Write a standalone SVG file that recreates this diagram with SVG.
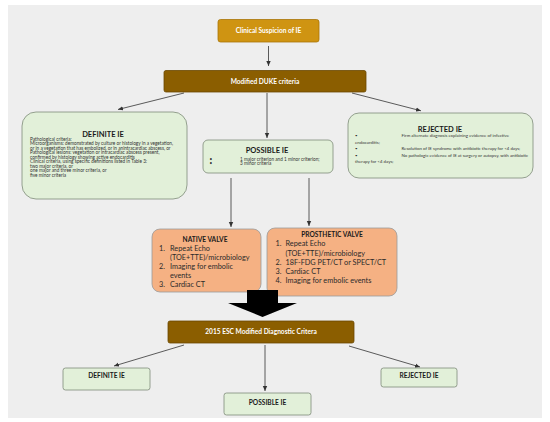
<svg xmlns="http://www.w3.org/2000/svg" width="550" height="422" viewBox="0 0 550 422">
<defs>
<marker id="ah" markerWidth="6" markerHeight="6" refX="5" refY="3" orient="auto" markerUnits="userSpaceOnUse">
<path d="M0,0.8 L5,3 L0,5.2 Z" fill="#333"/>
</marker>
<style>
.t{font-family:Lato,"Open Sans","Liberation Sans",sans-serif}
.w{fill:#ffffff;font-weight:bold;font-size:6.6px;text-anchor:middle}
.h{fill:#1a1a1a;font-weight:bold;text-anchor:middle}
.b{fill:#333;font-size:4.7px}
.r{fill:#333;font-size:4.4px}
.o{fill:#2a2a2a;font-size:7.3px}
.gold{fill:#cf9412;stroke:#a87508;stroke-width:0.8}
.brown{fill:#8b5e00;stroke:#6a4800;stroke-width:0.8}
.green{fill:#e2f0d9;stroke:#7d8a78;stroke-width:0.8}
.orange{fill:#f5b183;stroke:#9a9a9a;stroke-width:0.8}
.c{stroke:#333;stroke-width:0.8;fill:none;marker-end:url(#ah)}
</style>
</defs>
<rect x="8" y="5" width="534" height="413" fill="#eeeeee"/>

<g id="connectors">
<line class="c" x1="268.5" y1="46" x2="268.5" y2="66"/>
<line class="c" x1="184" y1="93" x2="118" y2="109.5"/>
<line class="c" x1="267" y1="93" x2="267" y2="138"/>
<line class="c" x1="352" y1="93" x2="421" y2="110.8"/>
<line class="c" x1="231" y1="178" x2="231" y2="227"/>
<line class="c" x1="309" y1="178" x2="309" y2="226"/>
<line class="c" x1="184" y1="345" x2="114" y2="366"/>
<line class="c" x1="265" y1="345" x2="265" y2="391"/>
<line class="c" x1="349" y1="346" x2="420" y2="367"/>
</g>

<g id="clinical">
<rect class="gold" x="218" y="19.5" width="101" height="22.5" rx="2.5"/>
<text class="t w" x="268.5" y="33.2">Clinical Suspicion of IE</text>
</g>

<g id="duke">
<rect class="brown" x="164" y="70.5" width="202" height="21.5" rx="2"/>
<text class="t w" x="265" y="83.5">Modified DUKE criteria</text>
</g>

<g id="definite">
<rect class="green" x="22" y="112" width="165" height="87" rx="14"/>
<text class="t h" x="103" y="136.5" font-size="7.5">DEFINITE IE</text>
<text class="t b" x="30" y="140.5">Pathological criteria:</text>
<text class="t b" x="30" y="145.1">Microorganisms: demonstrated by culture or histology in a vegetation,</text>
<text class="t b" x="30" y="149.6">or in a vegetation that has embolized, or in anintracardiac abscess, or</text>
<text class="t b" x="30" y="154.2">Pathological lesions: vegetation or intracardiac abscess present,</text>
<text class="t b" x="30" y="158.7">confirmed by histology showing active endocarditis</text>
<text class="t b" x="30" y="163.2">Clinical criteria, using specific definitions listed in Table 3:</text>
<text class="t b" x="30" y="167.8">two major criteria, or</text>
<text class="t b" x="30" y="172.4">one major and three minor criteria, or</text>
<text class="t b" x="30" y="176.9">five minor criteria</text>
</g>

<g id="possible">
<rect class="green" x="203" y="140" width="130" height="33" rx="5"/>
<text class="t h" x="267" y="153.3" font-size="7.5">POSSIBLE IE</text>
<text class="t b" x="209.5" y="160.5">•</text>
<text class="t b" x="240" y="160.5">1 major criterion and 1 minor criterion;</text>
<text class="t b" x="209.5" y="165.4">•</text>
<text class="t b" x="240" y="165.4">3 minor criteria</text>
</g>

<g id="rejected">
<rect class="green" x="348" y="113" width="185" height="65" rx="11"/>
<text class="t h" x="440" y="131.5" font-size="7.5">REJECTED IE</text>
<text class="t r" x="355" y="137.4">•</text>
<text class="t r" x="401.5" y="137.4">Firm alternate diagnosis explaining evidence of infective</text>
<text class="t r" x="355" y="143.8">endocarditis;</text>
<text class="t r" x="355" y="150.2">•</text>
<text class="t r" x="401.5" y="150.2">Resolution of IE syndrome with antibiotic therapy for &lt;4 days;</text>
<text class="t r" x="355" y="156.6">•</text>
<text class="t r" x="401.5" y="156.6">No pathologic evidence of IE at surgery or autopsy, with antibiotic</text>
<text class="t r" x="355" y="163">therapy for &lt;4 days;</text>
</g>

<g id="native">
<rect class="orange" x="152" y="229" width="109" height="63" rx="8"/>
<text class="t h" x="205" y="242.4" font-size="6.6">NATIVE VALVE</text>
<text class="t o" x="159" y="250.8">1.</text>
<text class="t o" x="170" y="250.8">Repeat Echo</text>
<text class="t o" x="170" y="260.1">(TOE+TTE)/microbiology</text>
<text class="t o" x="159" y="269.2">2.</text>
<text class="t o" x="170" y="269.2">Imaging for embolic</text>
<text class="t o" x="170" y="278">events</text>
<text class="t o" x="159" y="287.4">3.</text>
<text class="t o" x="170" y="287.4">Cardiac CT</text>
</g>

<g id="prosthetic">
<rect class="orange" x="267" y="228" width="130" height="68" rx="8"/>
<text class="t h" x="332" y="237.2" font-size="6.6">PROSTHETIC VALVE</text>
<text class="t o" x="275.5" y="246.2">1.</text>
<text class="t o" x="285.5" y="246.2">Repeat Echo</text>
<text class="t o" x="285.5" y="255.8">(TOE+TTE)/microbiology</text>
<text class="t o" x="275.5" y="264.8">2.</text>
<text class="t o" x="285.5" y="264.8">18F-FDG PET/CT or SPECT/CT</text>
<text class="t o" x="275.5" y="273.5">3.</text>
<text class="t o" x="285.5" y="273.5">Cardiac CT</text>
<text class="t o" x="275.5" y="283.3">4.</text>
<text class="t o" x="285.5" y="283.3">Imaging for embolic events</text>
</g>

<g id="bigarrow">
<polygon points="247,290 278,290 278,303 297,303 262.5,317 228,303 247,303" fill="#000"/>
</g>

<g id="esc">
<rect class="brown" x="168" y="321" width="186" height="22" rx="2"/>
<text class="t w" x="261" y="334.2">2015 ESC Modified Diagnostic Critera</text>
</g>

<g id="definite2">
<rect class="green" x="63" y="368" width="87" height="22" rx="2.5"/>
<text class="t h" x="106.5" y="377.5" font-size="6.6">DEFINITE IE</text>
</g>

<g id="possible2">
<rect class="green" x="224" y="393" width="87" height="22" rx="2.5"/>
<text class="t h" x="267.5" y="404.5" font-size="6.6">POSSIBLE IE</text>
</g>

<g id="rejected2">
<rect class="green" x="381" y="368" width="76" height="19" rx="2.5"/>
<text class="t h" x="419" y="378" font-size="6.6">REJECTED IE</text>
</g>
</svg>
